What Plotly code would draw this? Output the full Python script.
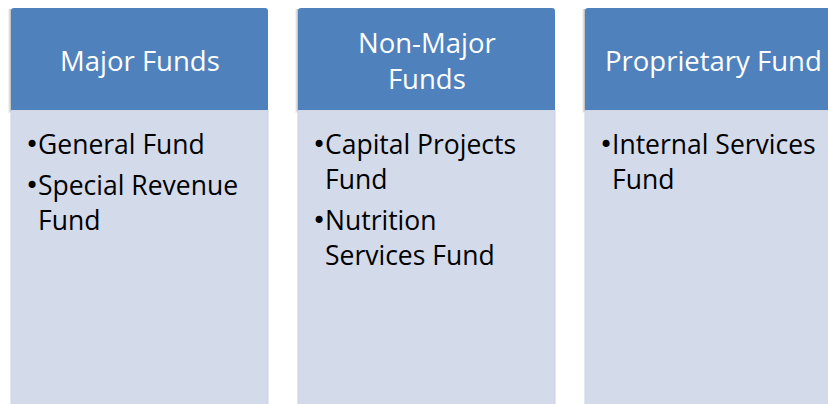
import plotly.graph_objects as go

# ---- content ----
headers = ["Major Funds", "Non-Major<br>Funds", "Proprietary Fund"]
items_major = ["General Fund", "Special Revenue|Fund"]
items_nonmajor = ["Capital Projects|Fund", "Nutrition|Services Fund"]
items_proprietary = ["Internal Services|Fund"]
items = [items_major, items_nonmajor, items_proprietary]

# ---- layout constants ----
W, H = 828, 404
box_x0 = [11, 298, 585]
box_w = 257
head_y0, head_y1 = 8, 110
body_y1 = 420
header_color = "#4F81BD"
body_color = "#D3DAEA"
font_family = "Open Sans, Segoe UI, sans-serif"

fig = go.Figure()
fig.add_trace(go.Scatter(x=[0, W], y=[0, H], mode="markers",
                         marker=dict(opacity=0), hoverinfo="skip", showlegend=False))

shapes = []
annotations = []
r = 3
for i, x0 in enumerate(box_x0):
    x1 = x0 + box_w
    for k, op in [(3, 0.05), (2, 0.08), (1, 0.12)]:
        shapes.append(dict(type="rect", x0=x0 - k, x1=x1 - 1, y0=head_y0 + 1, y1=head_y1 + k,
                           line=dict(width=0), fillcolor=f"rgba(0,0,0,{op})", layer="below"))
    shapes.append(dict(type="rect", x0=x0, x1=x1, y0=head_y1, y1=body_y1,
                       line=dict(width=1, color="#C9D1E3"), fillcolor=body_color, layer="below"))
    path = (f"M {x0},{head_y1} L {x0},{head_y0 + r} Q {x0},{head_y0} {x0 + r},{head_y0} "
            f"L {x1 - r},{head_y0} Q {x1},{head_y0} {x1},{head_y0 + r} L {x1},{head_y1} Z")
    shapes.append(dict(type="path", path=path, line=dict(width=0), fillcolor=header_color, layer="below"))

    annotations.append(dict(x=x0 + box_w / 2, y=(head_y0 + head_y1) / 2 + 1, text=headers[i],
                            showarrow=False, xanchor="center", yanchor="middle",
                            font=dict(family=font_family, size=27.5, color="white")))

    y = 144
    for j, item in enumerate(items[i]):
        lines = item.split("|")
        for k, line in enumerate(lines):
            if k == 0:
                annotations.append(dict(x=x0 + 20.5, y=y + 1, text="•", showarrow=False,
                                        xanchor="center", yanchor="middle",
                                        font=dict(family="DejaVu Sans", size=24, color="black")))
            annotations.append(dict(x=x0 + 24.5, y=y, text=line, showarrow=False,
                                    xanchor="left", yanchor="middle",
                                    font=dict(family=font_family, size=26.5, color="black")))
            y += 35
        y += 6

fig.update_layout(
    width=W, height=H,
    margin=dict(l=0, r=0, t=0, b=0),
    paper_bgcolor="white", plot_bgcolor="white",
    xaxis=dict(range=[0, W], visible=False, fixedrange=True),
    yaxis=dict(range=[H, 0], visible=False, fixedrange=True),
    shapes=shapes, annotations=annotations, showlegend=False,
)
fig.write_html("out.html", config={"displayModeBar": False},
               post_script="document.body.style.margin='0';document.body.style.overflow='hidden';")
